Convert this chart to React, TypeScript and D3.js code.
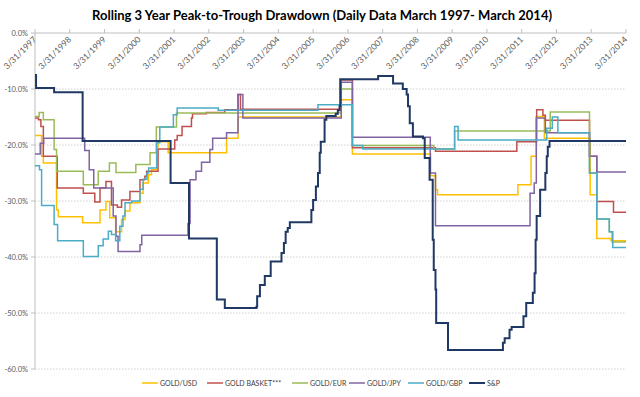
import React from 'react';
import * as d3 from 'd3';

type Pt = [number, number];

const tickYears = [1997, 1998, 1999, 2000, 2001, 2002, 2003, 2004, 2005, 2006, 2007, 2008, 2009, 2010, 2011, 2012, 2013, 2014];
const tickLabels = tickYears.map((yr) => `3/31/${yr}`);
const yTicks = [0, -10, -20, -30, -40, -50, -60];
const yTickLabels = ['0.0%', '-10.0%', '-20.0%', '-30.0%', '-40.0%', '-50.0%', '-60.0%'];

const seriesNames = ['GOLD/USD', 'GOLD BASKET***', 'GOLD/EUR', 'GOLD/JPY', 'GOLD/GBP', 'S&P'];
const seriesColors = ['#FFC000', '#C0504D', '#9BBB59', '#8064A2', '#4BACC6', '#1F3864'];

const goldUsd: Pt[] = [
  [1997.25, -18.3], [1997.44, -22.0], [1997.49, -23.2], [1997.87, -31.6], [1997.92, -32.8],
  [1998.62, -33.9], [1999.12, -31.6], [1999.29, -30.1], [1999.40, -33.0], [1999.57, -35.5],
  [1999.74, -33.3], [1999.84, -31.8], [1999.98, -30.3], [2000.27, -28.6], [2000.36, -26.8],
  [2000.51, -25.3], [2000.60, -24.4], [2000.75, -20.3], [2000.79, -19.4], [2001.08, -21.4],
  [2002.76, -18.8], [2003.09, -15.0], [2006.06, -11.9], [2006.38, -21.6], [2008.63, -25.5],
  [2008.77, -28.0], [2008.83, -28.9], [2011.14, -27.1], [2011.52, -22.0], [2011.67, -14.9],
  [2011.90, -18.8], [2013.22, -28.9], [2013.41, -36.7], [2013.82, -37.1], [2014.25, -37.1],
];

const goldBasket: Pt[] = [
  [1997.25, -15.2], [1997.35, -15.5], [1997.42, -16.7], [1997.49, -22.0], [1997.89, -27.7],
  [1998.64, -28.6], [1998.97, -30.2], [1999.12, -27.7], [1999.29, -26.5], [1999.45, -30.7],
  [1999.62, -31.1], [1999.74, -29.8], [1999.98, -28.3], [2000.27, -26.2], [2000.41, -25.6],
  [2000.46, -24.7], [2000.79, -20.7], [2001.27, -19.1], [2001.34, -18.3], [2001.48, -16.7],
  [2001.75, -15.2], [2001.78, -14.4], [2002.18, -14.2], [2002.71, -13.7], [2003.09, -11.0],
  [2003.16, -13.6], [2006.06, -8.4], [2006.38, -20.5], [2008.77, -21.1], [2011.11, -19.4],
  [2011.68, -13.7], [2011.86, -14.7], [2011.93, -15.6], [2013.20, -22.0], [2013.41, -30.1],
  [2013.89, -32.0], [2014.25, -32.0],
];

const goldEur: Pt[] = [
  [1997.25, -14.9], [1997.37, -14.2], [1997.49, -15.5], [1997.80, -20.8], [1997.87, -24.7],
  [1998.64, -27.1], [1999.07, -24.7], [1999.39, -23.2], [1999.58, -24.9], [2000.15, -23.5],
  [2000.56, -21.4], [2000.74, -16.8], [2001.32, -14.3], [2006.06, -10.0], [2006.38, -20.1],
  [2008.72, -20.7], [2009.32, -17.5], [2012.07, -14.1], [2013.20, -25.0], [2013.41, -33.2],
  [2013.77, -35.5], [2013.85, -37.3], [2014.25, -37.3],
];

const goldJpy: Pt[] = [
  [1997.25, -21.6], [1997.40, -19.7], [1997.50, -18.8], [1998.68, -21.0], [1998.81, -24.4],
  [1998.94, -27.7], [1999.50, -32.7], [1999.58, -36.3], [1999.64, -39.0], [2000.27, -37.8],
  [2000.32, -36.1], [2001.65, -34.0], [2001.71, -26.2], [2001.88, -24.7], [2002.04, -23.1],
  [2002.28, -20.8], [2002.36, -18.8], [2002.76, -17.8], [2003.09, -11.0], [2003.23, -15.2],
  [2006.06, -8.8], [2006.38, -18.6], [2008.62, -25.0], [2008.77, -34.4], [2011.49, -28.6],
  [2011.61, -26.8], [2011.67, -15.2], [2011.93, -17.8], [2013.20, -22.0], [2013.41, -24.8],
  [2014.25, -24.8],
];

const goldGbp: Pt[] = [
  [1997.25, -23.7], [1997.38, -24.4], [1997.44, -30.8], [1997.80, -34.2], [1997.90, -37.1],
  [1998.64, -39.9], [1999.07, -38.0], [1999.21, -36.8], [1999.36, -35.4], [1999.45, -36.0],
  [1999.57, -37.1], [1999.69, -34.5], [1999.78, -32.7], [1999.84, -30.3], [2000.03, -30.0],
  [2000.27, -27.9], [2000.36, -26.1], [2000.47, -25.0], [2000.52, -24.1], [2000.75, -19.6],
  [2000.84, -16.8], [2001.23, -14.6], [2001.34, -13.4], [2002.52, -13.8], [2005.39, -12.8],
  [2006.38, -20.1], [2006.68, -20.7], [2009.32, -16.7], [2009.42, -19.1], [2011.97, -17.0],
  [2012.13, -15.0], [2012.29, -17.8], [2013.20, -25.0], [2013.41, -33.2], [2013.77, -35.5],
  [2013.87, -38.3], [2014.25, -38.3],
];

const sp500: Pt[] = [
  [1997.25, -7.5], [1997.28, -9.8], [1997.80, -10.6], [1998.62, -19.3], [2001.15, -26.8],
  [2001.68, -36.7], [2002.48, -47.6], [2002.71, -49.1], [2003.62, -48.9], [2003.64, -47.0],
  [2003.72, -45.0], [2003.86, -43.4], [2004.03, -40.8], [2004.34, -39.3], [2004.41, -37.5],
  [2004.46, -35.5], [2004.52, -34.8], [2004.58, -33.8], [2005.20, -31.6], [2005.25, -29.8],
  [2005.33, -27.4], [2005.39, -25.0], [2005.44, -21.4], [2005.47, -19.4], [2005.58, -15.5],
  [2005.63, -14.8], [2005.90, -14.4], [2005.96, -13.8], [2006.01, -13.1], [2006.03, -8.25],
  [2007.12, -7.7], [2007.55, -9.0], [2007.83, -10.0], [2007.94, -11.0], [2007.98, -13.1],
  [2008.03, -16.1], [2008.12, -18.5], [2008.41, -18.8], [2008.46, -22.3], [2008.60, -26.2],
  [2008.69, -36.9], [2008.72, -42.3], [2008.77, -45.8], [2008.79, -51.8], [2009.13, -56.6],
  [2010.71, -55.3], [2010.76, -54.5], [2010.90, -53.0], [2010.96, -52.5], [2011.30, -50.6],
  [2011.38, -48.2], [2011.57, -46.4], [2011.62, -42.9], [2011.65, -36.9], [2011.68, -32.7],
  [2011.78, -28.0], [2011.93, -25.0], [2011.97, -22.0], [2012.00, -20.3], [2012.05, -19.3],
  [2014.25, -19.3],
];

const seriesData = [goldUsd, goldBasket, goldEur, goldJpy, goldGbp, sp500];

export default function App() {
  const W = 640;
  const H = 397;
  const x = d3.scaleLinear().domain([1997.25, 2014.25]).range([35, 626]);
  const y = d3.scaleLinear().domain([0, -60]).range([33, 369]);
  const line = d3
    .line<Pt>()
    .x((d) => x(d[0]))
    .y((d) => y(d[1]))
    .curve(d3.curveStepAfter);

  const legendX = [142, 207, 292, 349, 408, 469];
  const font = 'Lato, "Open Sans", sans-serif';

  return (
    <svg
      width={W}
      height={H}
      style={{ position: 'absolute', left: 0, top: 0, background: '#fff' }}
      fontFamily={font}
    >
      <rect x={0} y={0} width={W} height={H} fill="#fff" />
      <text
        x={322}
        y={20}
        textAnchor="middle"
        fontSize={14}
        fontWeight="bold"
        fill="#000"
        textLength={460}
        lengthAdjust="spacingAndGlyphs"
      >
        Rolling 3 Year Peak-to-Trough Drawdown (Daily Data March 1997- March 2014)
      </text>

      {yTicks.slice(1).map((v) => (
        <line
          key={`g${v}`}
          x1={x(1997.25)}
          x2={x(2014.25)}
          y1={y(v)}
          y2={y(v)}
          stroke="#D0D0D0"
          strokeWidth={1}
          strokeDasharray="1.5,1.5"
        />
      ))}

      <line x1={35} x2={35} y1={y(0)} y2={y(-60)} stroke="#BFBFBF" strokeWidth={1} />
      <line x1={x(1997.25)} x2={x(2014.25)} y1={y(0)} y2={y(0)} stroke="#BFBFBF" strokeWidth={1} />

      {yTicks.map((v, i) => (
        <g key={`yt${v}`}>
          <line x1={31} x2={35} y1={y(v)} y2={y(v)} stroke="#BFBFBF" />
          <text x={28} y={y(v) + 2.5} textAnchor="end" fontSize={7.5} fill="#595959">
            {yTickLabels[i]}
          </text>
        </g>
      ))}

      {tickYears.map((yr, i) => {
        const tx = x(yr + 0.25);
        return (
          <g key={`xt${yr}`}>
            <line x1={tx} x2={tx} y1={y(0) - 4} y2={y(0)} stroke="#BFBFBF" />
            <text
              transform={`translate(${tx + 2},${y(0) + 7}) rotate(-45)`}
              textAnchor="end"
              fontSize={8.5}
              fill="#595959"
            >
              {tickLabels[i]}
            </text>
          </g>
        );
      })}

      {seriesData.map((d, i) => (
        <path
          key={seriesNames[i]}
          d={line(d) || ''}
          fill="none"
          stroke={seriesColors[i]}
          strokeWidth={i === 5 ? 2 : 1.5}
          strokeLinejoin="miter"
        />
      ))}

      {seriesNames.map((name, i) => (
        <g key={`lg${name}`}>
          <line
            x1={legendX[i]}
            x2={legendX[i] + 16}
            y1={383}
            y2={383}
            stroke={seriesColors[i]}
            strokeWidth={i === 5 ? 2 : 1.5}
          />
          <text x={legendX[i] + 18} y={385.5} fontSize={7} fill="#404040">
            {name}
          </text>
        </g>
      ))}
    </svg>
  );
}
